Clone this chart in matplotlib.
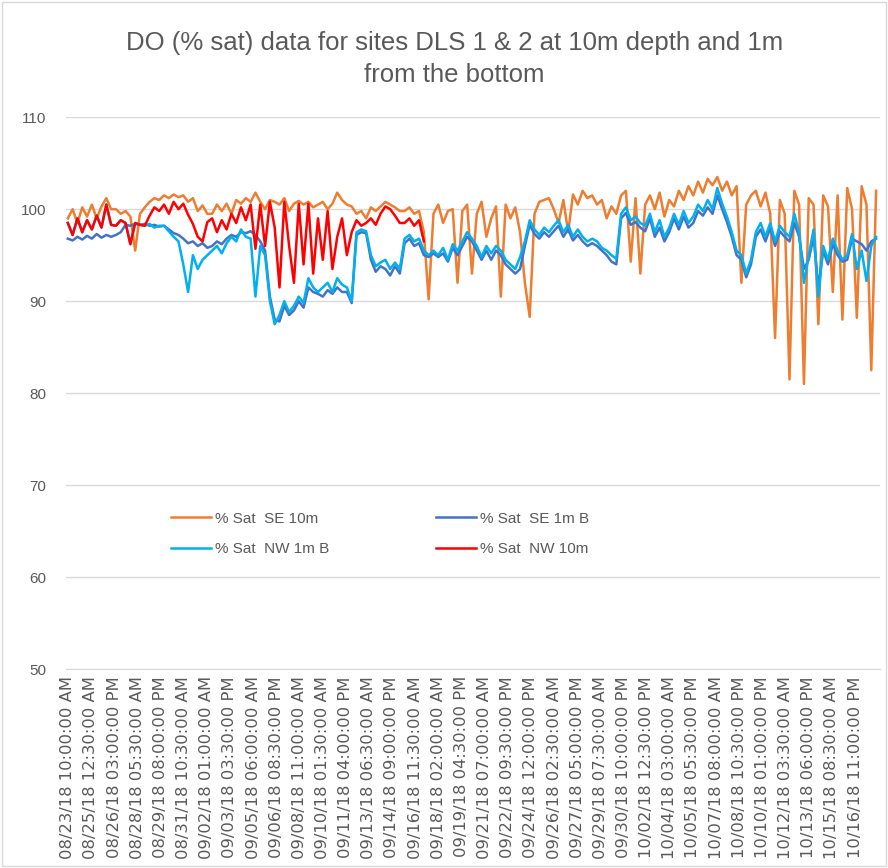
import numpy as np
import matplotlib
matplotlib.use('Agg')
from matplotlib import pyplot as plt
from matplotlib.patches import Rectangle

# category labels shown on the x axis (one every 77 half-hour readings)
tick_labels = [
    '08/23/18 10:00:00 AM', '08/25/18 12:30:00 AM', '08/26/18 03:00:00 PM',
    '08/28/18 05:30:00 AM', '08/29/18 08:00:00 PM', '08/31/18 10:30:00 AM',
    '09/02/18 01:00:00 AM', '09/03/18 03:30:00 PM', '09/05/18 06:00:00 AM',
    '09/06/18 08:30:00 PM', '09/08/18 11:00:00 AM', '09/10/18 01:30:00 AM',
    '09/11/18 04:00:00 PM', '09/13/18 06:30:00 AM', '09/14/18 09:00:00 PM',
    '09/16/18 11:30:00 AM', '09/18/18 02:00:00 AM', '09/19/18 04:30:00 PM',
    '09/21/18 07:00:00 AM', '09/22/18 09:30:00 PM', '09/24/18 12:00:00 PM',
    '09/26/18 02:30:00 AM', '09/27/18 05:00:00 PM', '09/29/18 07:30:00 AM',
    '09/30/18 10:00:00 PM', '10/02/18 12:30:00 PM', '10/04/18 03:00:00 AM',
    '10/05/18 05:30:00 PM', '10/07/18 08:00:00 AM', '10/08/18 10:30:00 PM',
    '10/10/18 01:00:00 PM', '10/12/18 03:30:00 AM', '10/13/18 06:00:00 PM',
    '10/15/18 08:30:00 AM', '10/16/18 11:00:00 PM',
]

# % saturation, every 8 hours (16 readings)
se_10m = [
    99, 100, 98.5, 100.2, 99.2, 100.5, 99, 100.3, 101.2, 100,
    100, 99.5, 99.8, 99.2, 95.5, 99.5, 100.2, 100.8, 101.2, 101,
    101.5, 101.2, 101.6, 101.3, 101.5, 100.8, 101.2, 99.8, 100.4, 99.5,
    99.5, 100.5, 99.8, 100.6, 99.5, 101, 100.6, 101.2, 100.8, 101.8,
    100.8, 100, 101, 100.8, 100.5, 101.2, 99.8, 100.6, 100.9, 100.5,
    100.8, 100.2, 100.5, 100.8, 100, 100.6, 101.8, 101, 100.5, 100.3,
    99.5, 99.8, 99, 100.2, 99.8, 100.3, 100.8, 100.5, 100.2, 99.8,
    99.8, 100.2, 99.5, 99.8, 97.5, 90.2, 99.5, 100.5, 98.5, 99.8,
    100, 92, 99.8, 100.5, 93, 99.5, 100.8, 97, 99, 100.3,
    90.5, 100.5, 99, 100.2, 97.5, 92, 88.3, 99.5, 100.8, 101,
    101.2, 100, 98.5, 101, 97.5, 101.6, 100.5, 102, 101.2, 101.5,
    100.5, 101, 99, 100.3, 99.5, 101.5, 102, 94.3, 101.2, 93,
    100.5, 101.5, 100, 101.8, 99.2, 101, 100.3, 102, 101, 102.5,
    101.5, 103, 101.8, 103.3, 102.6, 103.5, 102, 103, 101.5, 102.5,
    92, 100.5, 101.5, 102, 100.3, 101.8, 99.5, 86, 101, 99.5,
    81.5, 102, 100.5, 81, 101.2, 100.5, 87.5, 101.5, 100.3, 91,
    101.5, 88, 102.3, 100, 88.2, 102.5, 100.5, 82.5, 102,
]
se_1m_b = [
    96.8, 96.6, 97, 96.7, 97.1, 96.8, 97.3, 96.9, 97.2, 97,
    97.2, 97.5, 98.3, 98.2, 98.4, 98.3, 98.4, 98.2, 98.3, 98.1,
    98.2, 97.8, 97.4, 97.2, 96.8, 96.3, 96.5, 96, 96.3, 95.8,
    96, 96.5, 96.2, 96.8, 97.2, 97, 97.5, 97.4, 97.6, 97.2,
    96.5, 95.5, 90.5, 88, 87.8, 89.5, 88.5, 89, 90, 89.3,
    91.5, 91, 90.8, 90.5, 91.2, 90.8, 91.5, 91, 91, 89.8,
    97.2, 97.5, 97.4, 94.5, 93.2, 93.8, 93.5, 92.8, 93.8, 93,
    96.3, 96.8, 96, 96.3, 95, 94.8, 95.2, 94.8, 95.2, 94.3,
    95.8, 95, 96, 97, 96.5, 95.5, 94.5, 95.5, 94.5, 95.5,
    95, 94, 93.5, 93, 93.5, 96, 98.3, 97.3, 96.8, 97.5,
    97, 97.6, 98.2, 97, 97.8, 96.6, 97.2, 96.5, 96, 96.3,
    96, 95.5, 95, 94.3, 94, 99, 99.6, 98.3, 98.6, 98,
    97.6, 99, 97, 98, 96.5, 97.5, 99, 97.8, 99.2, 98,
    98.5, 99.8, 99.3, 100.2, 99.5, 101.5, 100, 98.6, 97, 95,
    94.5, 92.6, 94, 97, 97.8, 96.5, 98, 96, 97.6, 97,
    96.5, 98.5, 97, 93.5, 94.5, 97, 91.5, 95.5, 94, 96.2,
    95, 94.3, 94.5, 96.8, 96.5, 96.2, 95.5, 96.5, 96.8,
]
nw_1m_b = [
    98.5, 97.2, 99, 97.5, 98.8, 97.8, 99.3, 98, 100.5, 98.3,
    98.2, 98.8, 98.5, 96.2, 98.5, 98.3, 98.2, 98.4, 98, 98.2,
    98.2, 97.6, 97, 96.5, 94, 91, 95, 93.5, 94.5, 95,
    95.5, 96, 95.2, 96.3, 97, 96.5, 97.8, 97, 96.8, 90.5,
    96, 95, 90, 87.5, 88.5, 90, 88.8, 89.5, 90.5, 89.8,
    92.5, 91.5, 91, 91.5, 92, 91, 92.5, 91.8, 91.5, 90,
    97.5, 97.8, 97.6, 95, 93.8, 94.2, 94.5, 93.5, 94.2, 93.5,
    96.8, 97.2, 96.5, 96.8, 95.5, 95, 95.5, 95, 95.8, 94.5,
    96.2, 95.5, 96.5, 97.5, 96.8, 96, 94.8, 96, 95.2, 96,
    95.5, 94.5, 94, 93.5, 94.8, 96.5, 98.8, 97.8, 97.2, 98,
    97.5, 98.2, 98.8, 97.5, 98.3, 97, 97.8, 97, 96.5, 96.8,
    96.5, 95.8, 95.5, 95, 94.6, 99.5, 100.2, 98.8, 99.2, 98.5,
    98.2, 99.5, 97.5, 98.8, 97, 98, 99.5, 98.3, 99.8, 98.5,
    99.2, 100.5, 99.8, 101, 100, 102.3, 100.6, 99.2, 97.5, 95.5,
    95, 93, 94.5, 97.5, 98.5, 97, 98.5, 96.5, 98.2, 97.5,
    97, 99.5, 97.5, 92, 95, 97.8, 90.5, 96, 94.5, 96.8,
    95.5, 94.5, 95, 97.3, 93.5, 95.5, 92.2, 96, 97,
]
nw_10m = [
    98.5, 97.2, 99, 97.5, 98.8, 97.8, 99.3, 98, 100.5, 98.3,
    98.2, 98.8, 98.5, 96.2, 98.5, 98.3, 98.2, 99.3, 100.2, 99.8,
    100.5, 99.5, 100.8, 100, 100.6, 99.4, 98.4, 97, 96.5, 98.6,
    99, 97.5, 98.8, 97.8, 99.5, 98.5, 100.2, 98.8, 100.5, 95.7,
    100.5, 96, 100.8, 98, 91.5, 100.8, 96, 92, 100.6, 94,
    100.6, 93, 99, 94.5, 99.8, 93.5, 97, 99, 95, 97.5,
    98.8, 98.2, 98.5, 99, 98.3, 99.5, 100.3, 100, 99.3, 98.5,
    98.5, 99, 98.2, 98.8, 96.5,
]

STEP = 16        # readings between plotted points
PER_LABEL = 77   # readings between category labels

fig = plt.figure(figsize=(8.88, 8.68), dpi=100)
ax = fig.add_axes([0.074, 0.229, 0.917, 0.636])

ax.plot(np.arange(len(se_10m)) * STEP, se_10m, color='#ED7D31', lw=1.8, label='% Sat  SE 10m')
ax.plot(np.arange(len(se_1m_b)) * STEP, se_1m_b, color='#4472C4', lw=1.8, label='% Sat  SE 1m B')
ax.plot(np.arange(len(nw_1m_b)) * STEP, nw_1m_b, color='#00B0F0', lw=1.8, label='% Sat  NW 1m B')
ax.plot(np.arange(len(nw_10m)) * STEP, nw_10m, color='#FF0000', lw=1.8, label='% Sat  NW 10m')

ax.set_ylim(50, 110)
ax.set_yticks(range(50, 111, 10))
ax.set_xlim(-7, 2701)
ax.set_xticks(np.arange(len(tick_labels)) * PER_LABEL)
ax.set_xticklabels(tick_labels, rotation=90, fontsize=11.8, color='#595959',
                   family='DejaVu Sans')
for lab in ax.get_yticklabels():
    lab.set_fontsize(11)
    lab.set_color('#595959')
    lab.set_family('Liberation Sans')
ax.tick_params(length=0)
ax.tick_params(axis='x', pad=5)
ax.tick_params(axis='y', pad=14)
ax.grid(axis='y', color='#d9d9d9', lw=1)
ax.set_axisbelow(True)
for s in ['top', 'right', 'left']:
    ax.spines[s].set_visible(False)
ax.spines['bottom'].set_color('#d9d9d9')

h, l = ax.get_legend_handles_labels()
order = [0, 2, 1, 3]
ax.legend([h[i] for i in order], [l[i] for i in order], ncol=2,
          loc='upper left', bbox_to_anchor=(0.113, 0.31), frameon=False,
          prop={'family': 'Liberation Sans', 'size': 11}, labelcolor='#595959',
          handlelength=2.6, handletextpad=0.25, columnspacing=7.0, labelspacing=1.05)

fig.text(0.512, 0.951, 'DO (% sat) data for sites DLS 1 & 2 at 10m depth and 1m',
         ha='center', va='center', fontsize=18.5, color='#595959', family='Liberation Sans')
fig.text(0.512, 0.914, 'from the bottom', ha='center', va='center', fontsize=18.5,
         color='#595959', family='Liberation Sans')

fig.patches.append(Rectangle((0.002, 0.002), 0.996, 0.996, transform=fig.transFigure,
                             fill=False, edgecolor='#d9d9d9', lw=1))

plt.savefig('out.png', dpi=100)
